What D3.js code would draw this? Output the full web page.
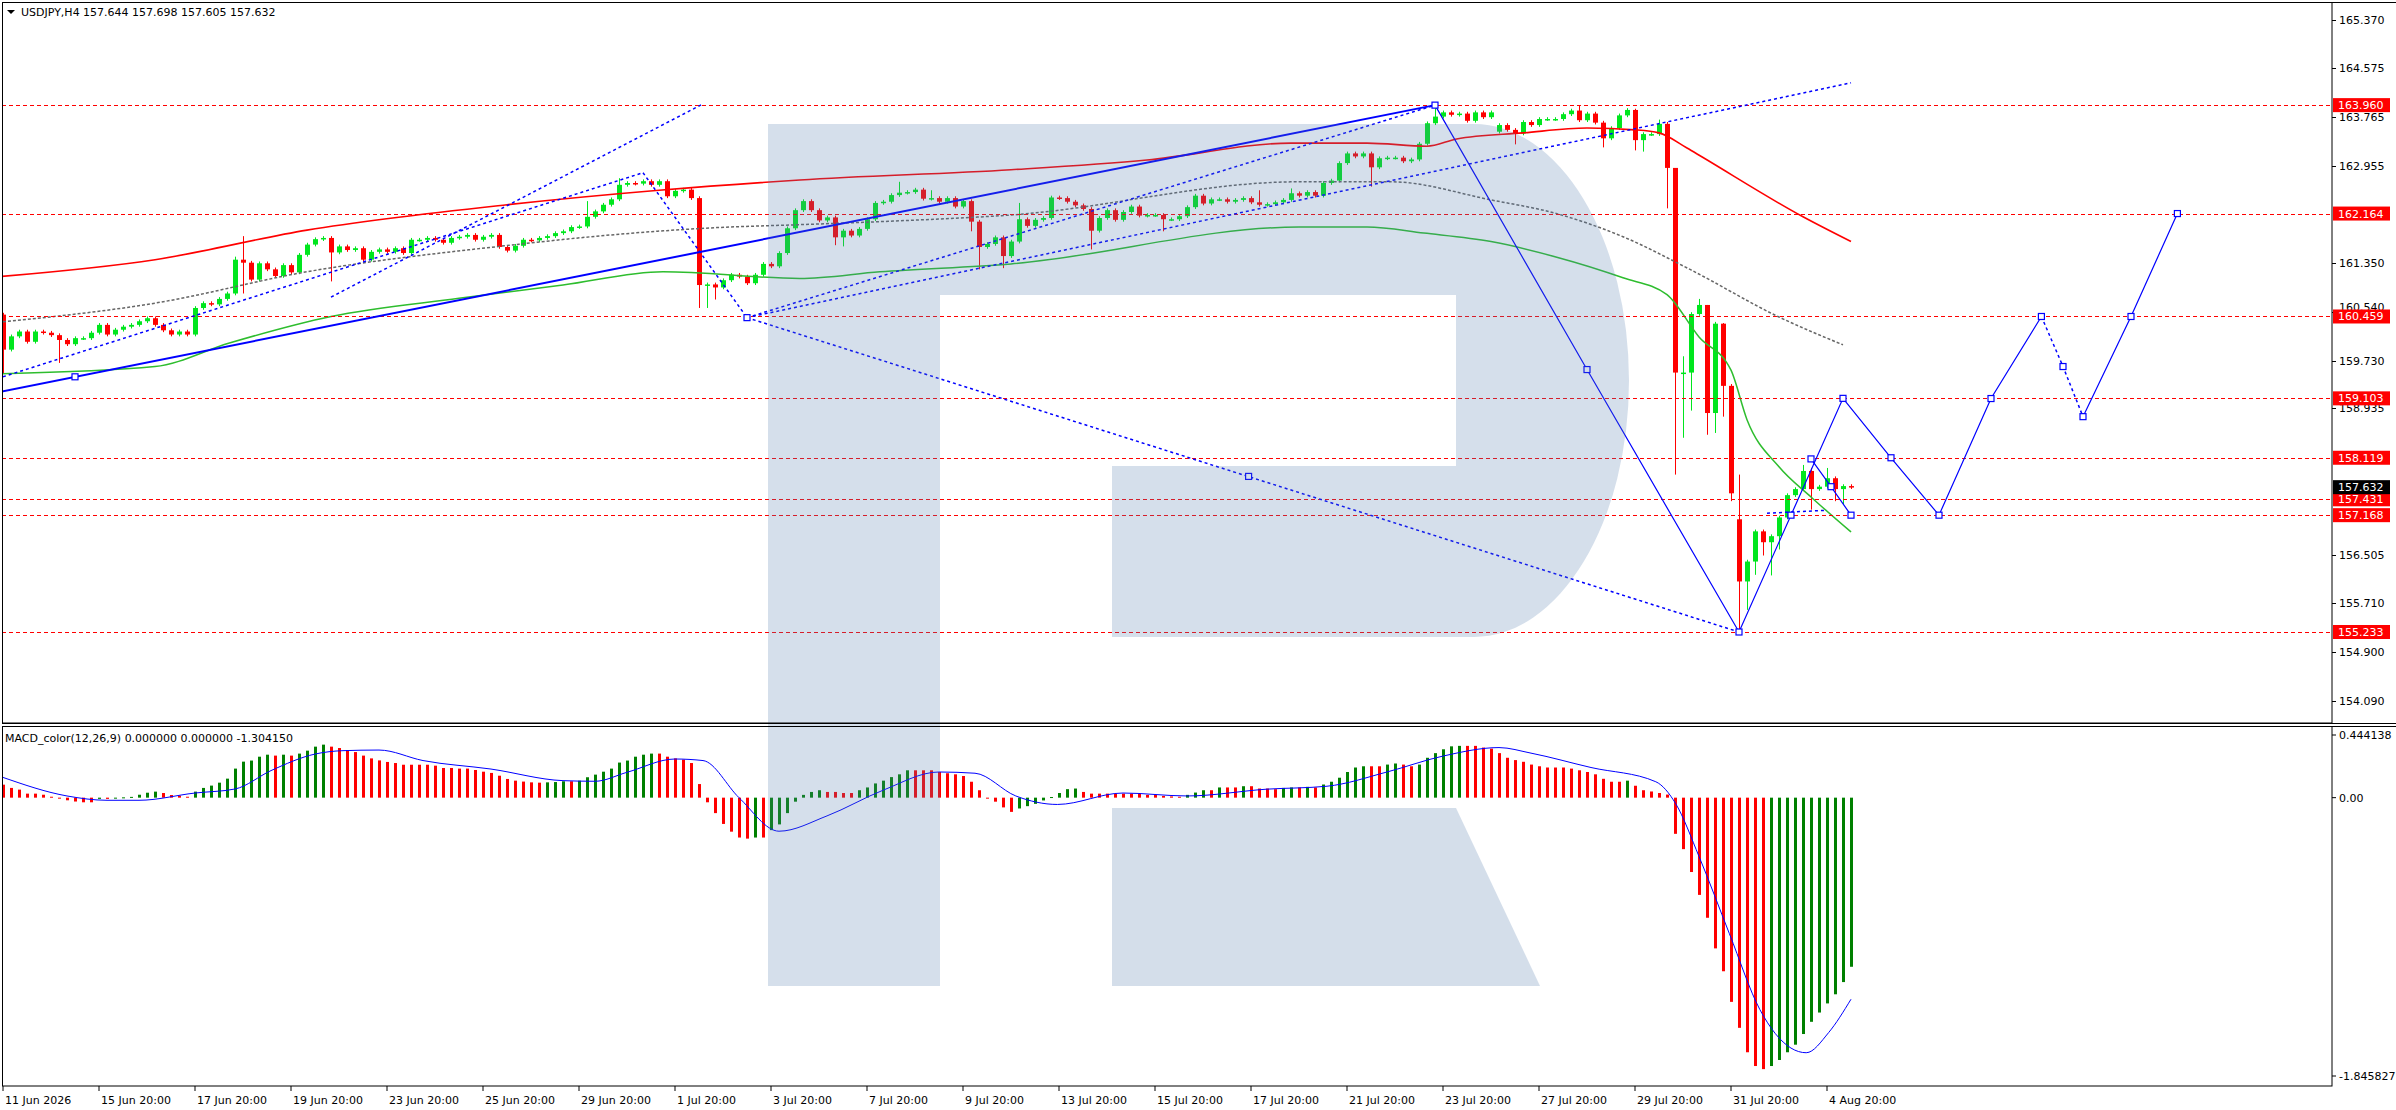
<!DOCTYPE html>
<html>
<head>
<meta charset="utf-8">
<script src="https://cdn.jsdelivr.net/npm/d3@7"></script>
<style>
  body { margin: 0; background: #fff; }
  text { font-family: "DejaVu Sans", sans-serif; font-size: 11px; }
</style>
</head>
<body>
<svg id="chart" width="2396" height="1110"></svg>
<script>
// ---- data ----
const closes = [
  159.91,160.13,160.21,160.04,160.21,160.19,160.15,160.07,160.00,160.10,
  160.10,160.19,160.32,160.16,160.24,160.29,160.32,160.38,160.43,160.32,
  160.23,160.16,160.21,160.16,160.60,160.68,160.66,160.75,160.84,161.40,
  161.35,161.07,161.34,161.24,161.13,161.31,161.19,161.48,161.65,161.74,
  161.76,161.52,161.62,161.56,161.59,161.40,161.53,161.57,161.53,161.59,
  161.51,161.73,161.73,161.76,161.73,161.68,161.76,161.78,161.81,161.73,
  161.78,161.81,161.61,161.55,161.63,161.73,161.72,161.76,161.79,161.84,
  161.87,161.94,161.95,162.11,162.20,162.31,162.40,162.64,162.67,162.66,
  162.70,162.64,162.70,162.45,162.54,162.56,162.42,160.98,160.99,160.94,
  161.06,161.15,161.12,161.01,161.15,161.33,161.29,161.51,161.92,162.22,
  162.37,162.22,162.05,162.10,161.77,161.88,161.80,161.91,162.07,162.34,
  162.36,162.47,162.51,162.52,162.56,162.41,162.42,162.36,162.42,162.28,
  162.37,162.03,161.61,161.66,161.77,161.46,161.70,162.07,161.96,162.06,
  162.09,162.43,162.42,162.36,162.30,162.24,161.88,162.09,162.22,162.06,
  162.19,162.28,162.13,162.14,162.14,162.07,162.07,162.12,162.27,162.46,
  162.33,162.40,162.40,162.36,162.39,162.42,162.35,162.31,162.32,162.35,
  162.39,162.50,162.46,162.52,162.46,162.67,162.71,163.00,163.16,163.11,
  163.16,162.93,163.08,163.09,163.09,163.03,163.06,163.32,163.66,163.77,
  163.84,163.80,163.82,163.70,163.84,163.76,163.84,163.63,163.55,163.49,
  163.68,163.63,163.73,163.73,163.73,163.81,163.87,163.71,163.82,163.67,
  163.41,163.58,163.79,163.88,163.38,163.48,163.48,163.65,162.92,159.53,
  159.53,160.50,160.65,158.86,160.34,159.31,157.53,156.07,156.40,156.90,
  156.72,156.82,157.13,157.50,157.60,157.90,157.60,157.64,157.78,157.60,
  157.65,157.632
]
// opens that differ from the previous close
const openGaps = { 0: 160.49, 187: 163.52, 217: 157.10 }
const highs = { 0: 160.52, 29: 161.45, 30: 161.79, 73: 162.37, 77: 162.75, 112: 162.69, 115: 162.59, 116: 162.55,
  127: 162.34, 157: 162.55, 161: 162.58, 179: 163.98, 197: 163.95, 204: 163.90, 207: 163.72, 209: 162.90,
  210: 159.80, 212: 160.75, 213: 160.65, 215: 160.35, 217: 157.84, 225: 158.00, 226: 157.95, 228: 157.95 }
const lows = { 0: 159.52, 7: 159.69, 30: 160.84, 41: 161.04, 87: 160.60, 88: 160.60, 89: 160.74, 104: 161.64,
  105: 161.62, 121: 161.87, 122: 161.24, 125: 161.26, 136: 161.57, 145: 161.87, 171: 162.61, 189: 163.31,
  200: 163.26, 204: 163.21, 205: 163.19, 208: 162.25, 209: 157.84, 210: 158.45, 211: 158.90, 213: 158.50,
  214: 158.53, 215: 158.80, 216: 157.40, 217: 155.233, 218: 155.60, 219: 156.18, 220: 156.50, 221: 156.17,
  222: 156.60, 226: 157.26, 229: 157.40, 230: 157.35 }

const maRed = [[-0.4,161.12],[19,161.40],[38,161.89],[63,162.31],[82,162.55],[99.6,162.72],[126,162.89],[143,163.05],
  [161,163.33],[170.5,163.33],[178,163.28],[181.7,163.40],[190,163.50],[198,163.58],[204,163.55],[207,163.50],
  [210.5,163.25],[212.4,163.10],[225,162.11],[231,161.70]]
const maGreen = [[-0.4,159.51],[19,159.63],[28.3,160.02],[41,160.46],[57,160.76],[70,160.98],[82.5,161.20],[99.6,161.09],
  [109.6,161.20],[126,161.33],[162,161.94],[170.5,161.94],[177.6,161.84],[186,161.70],[194,161.45],[202.5,161.10],
  [208,160.82],[212,160.12],[216,159.57],[218,158.75],[222,157.97],[226,157.47],[231,156.89]]
const maGray = [[0,160.37],[19,160.68],[38,161.20],[63.4,161.64],[76,161.81],[89,161.93],[99.6,161.98],[111.4,162.04],
  [126,162.14],[162,162.69],[173.5,162.69],[186,162.39],[194,162.17],[202.5,161.78],[211,161.23],[222,160.45],[230,159.99]]

const levels = [163.960, 162.164, 160.459, 159.103, 158.119, 157.431, 157.168, 155.233]
const currentPrice = 157.632
const priceTicks = [165.370, 164.575, 163.765, 162.955, 161.350, 160.540, 159.730, 158.935, 156.505, 155.710, 154.900, 154.090]

const solidLines = [
  [[-0.4,159.21],[179,163.96]],
  [[179,163.96],[198,159.58],[217,155.233],[230,159.103],[236,158.119],[242,157.168],[248.5,159.10],[254.8,160.459]],
  [[260,158.80],[266,160.459],[271.8,162.164]],
  [[226,158.10],[228.5,157.64],[231,157.168]]
]
const dottedLines = [
  [[0,159.46],[80,162.84]],
  [[41,160.78],[87.5,163.98]],
  [[80,162.84],[93,160.44]],
  [[93,160.44],[179,163.96]],
  [[93,160.44],[231,164.33]],
  [[93,160.44],[217,155.233]],
  [[254.8,160.459],[257.5,159.63],[260,158.80]],
  [[220.5,157.20],[228,157.25]]
]
const markers = [[9,159.46],[179,163.96],[198,159.58],[217,155.233],[230,159.103],[236,158.119],[242,157.168],
  [248.5,159.10],[254.8,160.459],[257.5,159.63],[260,158.80],[266,160.459],[271.8,162.164],
  [223.5,157.168],[226,158.10],[228.5,157.64],[231,157.168],[155.7,157.81],[93,160.44]]

const macdHist = [
  0.084,0.063,0.052,0.026,0.026,0.019,0.006,-0.004,-0.017,-0.025,-0.03,-0.03,
  -0.008,-0.008,-0.004,0.002,0.005,0.019,0.032,0.039,0.030,0.017,0.013,0.006,
  0.039,0.063,0.078,0.097,0.123,0.188,0.233,0.24,0.265,0.278,0.272,0.278,
  0.272,0.285,0.304,0.33,0.343,0.33,0.321,0.308,0.295,0.272,0.254,0.241,
  0.231,0.224,0.213,0.213,0.213,0.213,0.207,0.192,0.192,0.188,0.188,0.179,
  0.168,0.16,0.142,0.121,0.11,0.104,0.099,0.097,0.099,0.101,0.106,0.106,
  0.11,0.132,0.149,0.168,0.188,0.227,0.24,0.265,0.278,0.285,0.285,0.265,
  0.254,0.246,0.224,0.088,-0.03,-0.10,-0.17,-0.22,
  -0.258,-0.265,-0.258,-0.258,-0.21,-0.173,-0.10,-0.026,0.018,0.037,0.048,0.037,
  0.037,0.03,0.03,0.048,0.066,0.092,0.11,0.133,0.151,0.177,0.177,0.177,
  0.177,0.166,0.158,0.151,0.14,0.103,0.048,0.0,-0.026,-0.063,-0.092,-0.07,
  -0.055,-0.04,-0.018,0.004,0.03,0.055,0.059,0.037,0.026,0.026,0.026,0.026,
  0.026,0.026,0.026,0.018,0.018,0.011,0.008,0.006,0.018,0.033,0.048,0.048,
  0.066,0.066,0.066,0.074,0.074,0.059,0.059,0.055,0.063,0.066,0.066,0.07,
  0.066,0.085,0.103,0.129,0.166,0.195,0.203,0.203,0.203,0.214,0.221,0.214,
  0.203,0.214,0.258,0.288,0.313,0.332,0.335,0.335,0.335,0.324,0.317,0.288,
  0.258,0.243,0.232,0.214,0.203,0.195,0.195,0.195,0.188,0.177,0.166,0.151,
  0.122,0.103,0.103,0.11,0.077,0.048,0.04,0.03,0.02,
  -0.234,-0.333,-0.481,-0.629,-0.777,-0.975,-1.123,-1.321,-1.489,-1.647,-1.736,-1.756,
  -1.736,-1.697,-1.647,-1.598,-1.529,-1.450,-1.390,-1.331,-1.272,-1.193,-1.094
]
const macdSignal = [[0,0.131],[8,0.011],[13,-0.017],[17,-0.017],[24,0.03],[29,0.056],[33.5,0.175],[39,0.282],
  [42.5,0.304],[47,0.308],[52.5,0.24],[61,0.185],[70,0.11],[74,0.106],[78,0.164],[84,0.25],[87.5,0.24],[92,0.0],
  [97,-0.217],[103,-0.118],[110,0.048],[117,0.166],[121.5,0.158],[126.6,0.011],[131.8,-0.044],[140,0.03],
  [148,0.011],[158,0.055],[165.5,0.074],[173,0.166],[180,0.269],[187,0.324],[191,0.288],[198.5,0.195],
  [206.6,0.103],[209.1,-0.04],[212,-0.38],[215.8,-0.88],[219.6,-1.37],[223.5,-1.62],[225.4,-1.65],
  [228.2,-1.52],[231,-1.304]]
const macdTicks = [0.444138, 0.00, -1.845827]

const dateLabels = ['11 Jun 2026','15 Jun 20:00','17 Jun 20:00','19 Jun 20:00','23 Jun 20:00','25 Jun 20:00',
  '29 Jun 20:00','1 Jul 20:00','3 Jul 20:00','7 Jul 20:00','9 Jul 20:00','13 Jul 20:00','15 Jul 20:00',
  '17 Jul 20:00','21 Jul 20:00','23 Jul 20:00','27 Jul 20:00','29 Jul 20:00','31 Jul 20:00','4 Aug 20:00']

// ---- layout ----
const W = 2396, axisX = 2332
const mainTop = 3, mainBottom = 723, macdTop = 727, macdBottom = 1086
const svg = d3.select('#chart')

const x = d3.scaleLinear().domain([0, 1]).range([3, 11])
const y = d3.scaleLinear().domain([165.370, 154.090]).range([20, 701])
const ym = d3.scaleLinear().domain([0.444138, -1.845827]).range([729, 1083])

const RED = '#ff0000', GREEN = '#00e61e'

svg.append('clipPath').attr('id', 'mainClip').append('rect')
  .attr('x', 2).attr('y', mainTop).attr('width', axisX - 2).attr('height', mainBottom - mainTop)
svg.append('clipPath').attr('id', 'macdClip').append('rect')
  .attr('x', 2).attr('y', macdTop).attr('width', axisX - 2).attr('height', macdBottom - macdTop)

const main = svg.append('g').attr('clip-path', 'url(#mainClip)')
const macd = svg.append('g').attr('clip-path', 'url(#macdClip)')

// candles
const candles = closes.map((c, i) => {
  const o = openGaps[i] !== undefined ? openGaps[i] : closes[i - 1]
  const top = Math.max(o, c), bot = Math.min(o, c)
  return { i, o, c, h: highs[i] !== undefined ? highs[i] : top + 0.03, l: lows[i] !== undefined ? lows[i] : bot - 0.03 }
})

main.append('g').selectAll('line').data(candles).join('line')
  .attr('x1', d => x(d.i) + 0.5).attr('x2', d => x(d.i) + 0.5)
  .attr('y1', d => y(d.h)).attr('y2', d => y(d.l))
  .attr('stroke', d => d.c >= d.o ? GREEN : RED).attr('stroke-width', 1)

main.append('g').selectAll('rect').data(candles).join('rect')
  .attr('x', d => x(d.i) - 2).attr('width', 5)
  .attr('y', d => y(Math.max(d.o, d.c)))
  .attr('height', d => Math.max(1.5, Math.abs(y(d.o) - y(d.c))))
  .attr('fill', d => d.c >= d.o ? GREEN : RED)

// moving averages
const knotLine = d3.line().x(d => x(d[0])).y(d => y(d[1])).curve(d3.curveMonotoneX)
main.append('path').datum(maRed).attr('d', knotLine).attr('fill', 'none').attr('stroke', RED).attr('stroke-width', 1.6)
main.append('path').datum(maGreen).attr('d', knotLine).attr('fill', 'none').attr('stroke', '#2ebd2e').attr('stroke-width', 1.5)
main.append('path').datum(maGray).attr('d', knotLine).attr('fill', 'none').attr('stroke', '#666')
  .attr('stroke-width', 1.5).attr('stroke-dasharray', '3,2')

// macd histogram + signal
macd.append('g').selectAll('rect').data(macdHist).join('rect')
  .attr('x', (d, i) => x(i) - 1).attr('width', 3)
  .attr('y', d => Math.min(ym(0), ym(d)))
  .attr('height', d => Math.max(1, Math.abs(ym(d) - ym(0))))
  .attr('fill', (d, i) => i > 0 && d > macdHist[i - 1] ? '#008000' : RED)
macd.append('path').datum(macdSignal)
  .attr('d', d3.line().x(d => x(d[0])).y(d => ym(d[1])).curve(d3.curveMonotoneX))
  .attr('fill', 'none').attr('stroke', '#0000ff').attr('stroke-width', 1)

// watermark "R"
const logo = svg.append('g').attr('fill', 'rgb(82,123,173)').attr('opacity', 0.243)
logo.append('path')
  .attr('d', 'M768,124 L1474,124 A155,256.5 0 0 1 1474,637 L1112,637 L1112,466 L1456,466 L1456,295 L940,295 L940,986 L768,986 Z')
logo.append('path').attr('d', 'M1112,808 L1456,808 L1540,986 L1112,986 Z')

// level lines
main.append('g').selectAll('line').data(levels).join('line')
  .attr('x1', 2).attr('x2', axisX).attr('y1', d => Math.round(y(d)) + 0.5).attr('y2', d => Math.round(y(d)) + 0.5)
  .attr('stroke', RED).attr('stroke-width', 1.2).attr('stroke-dasharray', '4,3')

// drawn objects
const objLine = d3.line().x(d => x(d[0])).y(d => y(d[1]))
main.append('g').selectAll('path').data(solidLines).join('path')
  .attr('d', objLine).attr('fill', 'none').attr('stroke', '#0000ff')
  .attr('stroke-width', (d, i) => i === 0 ? 2 : 1.2)
main.append('g').selectAll('path').data(dottedLines).join('path')
  .attr('d', objLine).attr('fill', 'none').attr('stroke', '#0000ff')
  .attr('stroke-width', 1.5).attr('stroke-dasharray', '3,3')
main.append('g').selectAll('rect').data(markers).join('rect')
  .attr('x', d => x(d[0]) - 3).attr('y', d => y(d[1]) - 3).attr('width', 6).attr('height', 6)
  .attr('fill', '#fff').attr('stroke', '#0000ff').attr('stroke-width', 1.2)

// frames
svg.append('rect').attr('x', 2.5).attr('y', 2.5).attr('width', axisX - 2.5).attr('height', mainBottom - 2.5)
  .attr('fill', 'none').attr('stroke', '#000')
svg.append('line').attr('x1', 2).attr('x2', W).attr('y1', 2.5).attr('y2', 2.5).attr('stroke', '#000')
svg.append('line').attr('x1', 2).attr('x2', W).attr('y1', mainBottom + 0.5).attr('y2', mainBottom + 0.5).attr('stroke', '#000')
svg.append('line').attr('x1', 2).attr('x2', W).attr('y1', macdTop - 0.5).attr('y2', macdTop - 0.5).attr('stroke', '#000')
svg.append('rect').attr('x', 2.5).attr('y', macdTop - 0.5).attr('width', axisX - 2.5).attr('height', macdBottom - macdTop + 0.5)
  .attr('fill', 'none').attr('stroke', '#000')

// price axis
const pa = svg.append('g')
priceTicks.forEach(v => {
  const lift = v === 160.540 ? -5 : 0
  pa.append('line').attr('x1', axisX).attr('x2', axisX + 4).attr('y1', Math.round(y(v)) + 0.5).attr('y2', Math.round(y(v)) + 0.5).attr('stroke', '#000')
  pa.append('text').attr('x', axisX + 7).attr('y', y(v) + 4 + lift).text(v.toFixed(3))
})
const boxes = levels.map(v => ({ v, bg: RED })).concat([{ v: currentPrice, bg: '#000' }])
boxes.forEach(b => {
  pa.append('rect').attr('x', axisX + 1).attr('y', y(b.v) - 7).attr('width', 57).attr('height', 14).attr('fill', b.bg)
  pa.append('text').attr('x', axisX + 6).attr('y', y(b.v) + 4).attr('fill', '#fff').text(b.v.toFixed(3))
})

// macd axis
macdTicks.forEach((v, k) => {
  const yy = k === 0 ? 735 : k === 2 ? 1076 : ym(v)
  pa.append('line').attr('x1', axisX).attr('x2', axisX + 4).attr('y1', yy).attr('y2', yy).attr('stroke', '#000')
  pa.append('text').attr('x', axisX + 7).attr('y', yy + 4).text(k === 1 ? '0.00' : v.toFixed(6))
})

// time axis
dateLabels.forEach((t, k) => {
  const xx = x(12 * k)
  pa.append('line').attr('x1', xx).attr('x2', xx).attr('y1', macdBottom).attr('y2', macdBottom + 5).attr('stroke', '#000')
  pa.append('text').attr('x', xx + 2).attr('y', 1104).text(t)
})

// headers
svg.append('path').attr('d', 'M7,10 L15,10 L11,14 Z').attr('fill', '#000')
svg.append('text').attr('x', 21).attr('y', 16).text('USDJPY,H4  157.644 157.698 157.605 157.632')
svg.append('text').attr('x', 5).attr('y', 742).text('MACD_color(12,26,9) 0.000000 0.000000 -1.304150')
</script>
</body>
</html>
